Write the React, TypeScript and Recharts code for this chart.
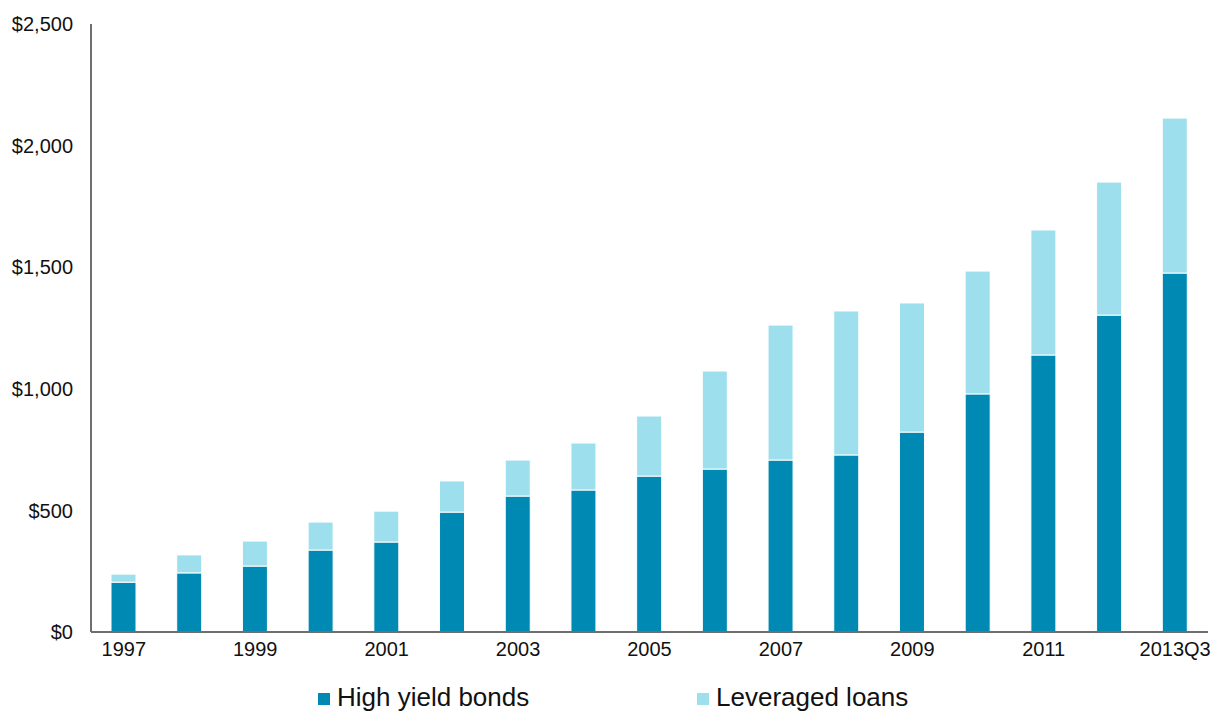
import { BarChart, Bar, XAxis, YAxis } from "recharts";

const years = [
  "1997", "1998", "1999", "2000", "2001", "2002", "2003", "2004", "2005",
  "2006", "2007", "2008", "2009", "2010", "2011", "2012", "2013Q3",
];
// $ billions
const highYield = [205, 243, 271, 337, 370, 493, 559, 584, 641, 670, 707, 728, 822, 979, 1139, 1303, 1476];
const leveragedLoans = [33, 74, 103, 115, 127, 128, 148, 193, 247, 403, 555, 592, 531, 505, 514, 547, 637];
const yTicks = [0, 500, 1000, 1500, 2000, 2500];

const HY_COLOR = "#0089B3";
const LOAN_COLOR = "#9DDFED";
const AXIS_COLOR = "#6f6f6f";
const FONT = "'Liberation Sans', Arial, sans-serif";

const data = years.map((year, i) => ({
  year,
  hy: highYield[i],
  loans: leveragedLoans[i],
}));

const legendItems = [
  { label: "High yield bonds", color: HY_COLOR, left: 318 },
  { label: "Leveraged loans", color: LOAN_COLOR, left: 697 },
];

export default function App() {
  return (
    <div style={{ position: "absolute", left: 0, top: 0, width: 1214, height: 711, background: "#fff", fontFamily: FONT }}>
      <BarChart
        width={1214}
        height={711}
        data={data}
        margin={{ top: 24, right: 6, left: 0, bottom: 49 }}
        barSize={25}
      >
        <XAxis
          dataKey="year"
          interval={1}
          height={30}
          tickLine={false}
          tickSize={0}
          tickMargin={10}
          axisLine={{ stroke: AXIS_COLOR, strokeWidth: 2 }}
          tick={{ fill: "#111", fontSize: 20, fontFamily: FONT }}
        />
        <YAxis
          width={91}
          domain={[0, 2500]}
          ticks={yTicks}
          tickLine={false}
          tickSize={0}
          tickMargin={18}
          axisLine={{ stroke: AXIS_COLOR, strokeWidth: 2 }}
          tickFormatter={(v: number) => `$${v.toLocaleString("en-US")}`}
          tick={{ fill: "#111", fontSize: 20, fontFamily: FONT }}
        />
        <Bar dataKey="hy" stackId="a" fill={HY_COLOR} stroke="#fff" strokeWidth={1} isAnimationActive={false} />
        <Bar dataKey="loans" stackId="a" fill={LOAN_COLOR} stroke="#fff" strokeWidth={1} isAnimationActive={false} />
      </BarChart>
      {legendItems.map((item) => (
        <div
          key={item.label}
          style={{
            position: "absolute",
            left: item.left,
            top: 682,
            display: "flex",
            alignItems: "center",
            fontSize: 26,
            color: "#111",
            whiteSpace: "nowrap",
          }}
        >
          <span style={{ display: "inline-block", width: 12, height: 12, background: item.color, marginRight: 7, marginTop: 2 }} />
          {item.label}
        </div>
      ))}
    </div>
  );
}
